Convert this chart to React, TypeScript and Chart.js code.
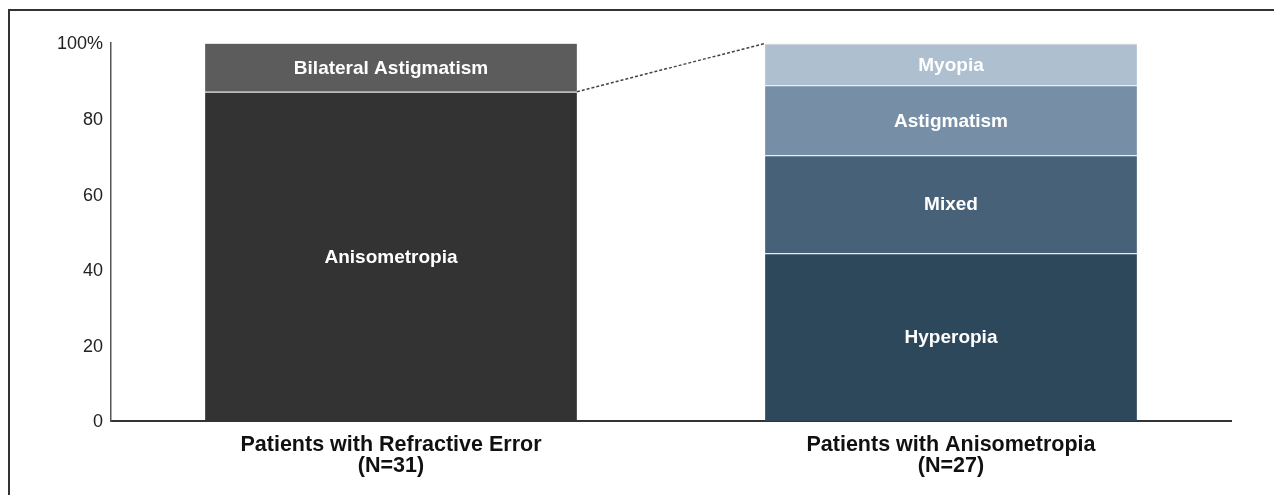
import React, { useEffect, useRef } from "react";
import { Chart, registerables } from "chart.js";

Chart.register(...registerables);

const categories = [
  ["Patients with Refractive Error", "(N=31)"],
  ["Patients with Anisometropia", "(N=27)"],
];
const anisometropia = [87.1, null];
const bilateralAstigmatism = [12.9, null];
const hyperopia = [null, 44.4];
const mixed = [null, 25.9];
const astigmatism = [null, 18.5];
const myopia = [null, 11.1];
const yTicks = [0, 20, 40, 60, 80, 100];

const FONT = "'Liberation Sans', Arial, sans-serif";

const overlayPlugin = {
  id: "overlay",
  afterDatasetsDraw(chart: any) {
    const ctx = chart.ctx;
    ctx.save();
    // segment labels
    ctx.font = `bold 19px ${FONT}`;
    ctx.fillStyle = "#ffffff";
    ctx.textAlign = "center";
    ctx.textBaseline = "middle";
    chart.data.datasets.forEach((ds: any, i: number) => {
      const meta = chart.getDatasetMeta(i);
      meta.data.forEach((el: any, j: number) => {
        const v = ds.data[j];
        if (v === null || v === undefined) return;
        ctx.fillText(ds.label, el.x, (el.y + el.base) / 2 + 1);
      });
    });
    // dashed connector
    const left = chart.getDatasetMeta(0).data[0];
    const right = chart.getDatasetMeta(5).data[1];
    ctx.strokeStyle = "#444";
    ctx.lineWidth = 1.5;
    ctx.setLineDash([3, 2]);
    ctx.beginPath();
    ctx.moveTo(left.x + left.width / 2, left.y);
    ctx.lineTo(right.x - right.width / 2, right.y);
    ctx.stroke();
    ctx.restore();
  },
};

export default function App() {
  const ref = useRef<HTMLCanvasElement>(null);
  useEffect(() => {
    document.body.style.overflow = "hidden";
    const common = {
      stack: "s",
      borderWidth: { top: 1, left: 0, right: 0, bottom: 0 },
      borderColor: "#e2e2e2",
      borderSkipped: "start",
      categoryPercentage: 1,
      barPercentage: 0.664,
    };
    const chart = new Chart(ref.current!, {
      type: "bar",
      data: {
        labels: categories as any,
        datasets: [
          { ...common, label: "Anisometropia", data: anisometropia, backgroundColor: "#333333" },
          { ...common, label: "Bilateral Astigmatism", data: bilateralAstigmatism, backgroundColor: "#5c5c5c" },
          { ...common, label: "Hyperopia", data: hyperopia, backgroundColor: "#2d475b" },
          { ...common, label: "Mixed", data: mixed, backgroundColor: "#476278" },
          { ...common, label: "Astigmatism", data: astigmatism, backgroundColor: "#768fa7" },
          { ...common, label: "Myopia", data: myopia, backgroundColor: "#aebfcf" },
        ] as any,
      },
      options: {
        animation: false,
        responsive: true,
        maintainAspectRatio: false,
        layout: { padding: { top: 43, right: 43, left: 0, bottom: 0 } },
        plugins: { legend: { display: false }, tooltip: { enabled: false } },
        scales: {
          x: {
            stacked: true,
            grid: { display: false, drawTicks: false },
            border: { display: true, color: "#333", width: 2 },
            ticks: {
              color: "#111",
              font: { family: FONT, size: 21.5, weight: "bold", lineHeight: 1.0 },
              padding: 13,
              maxRotation: 0,
              autoSkip: false,
            },
            afterFit: (s: any) => {
              s.height = 74;
            },
          },
          y: {
            stacked: true,
            min: 0,
            max: 100,
            grid: { display: false, drawTicks: false },
            border: { display: true, color: "#555", width: 1.5 },
            afterBuildTicks: (s: any) => {
              s.ticks = yTicks.map((v) => ({ value: v }));
            },
            ticks: {
              color: "#222",
              font: { family: FONT, size: 18 },
              padding: 8,
              labelOffset: 1.5,
              callback: (v: any) => (v === 100 ? "100%" : String(v)),
            },
            afterFit: (s: any) => {
              s.width = 111;
            },
          },
        },
      } as any,
      plugins: [overlayPlugin],
    });
    return () => chart.destroy();
  }, []);

  return (
    <div style={{ position: "fixed", left: 0, top: 0, width: 1274, height: 495, background: "#fff" }}>
      <canvas ref={ref} />
      <div style={{ position: "absolute", left: 9, top: 9, width: 1300, height: 2, background: "#333" }} />
      <div style={{ position: "absolute", left: 8, top: 9, width: 2, height: 600, background: "#333" }} />
    </div>
  );
}
